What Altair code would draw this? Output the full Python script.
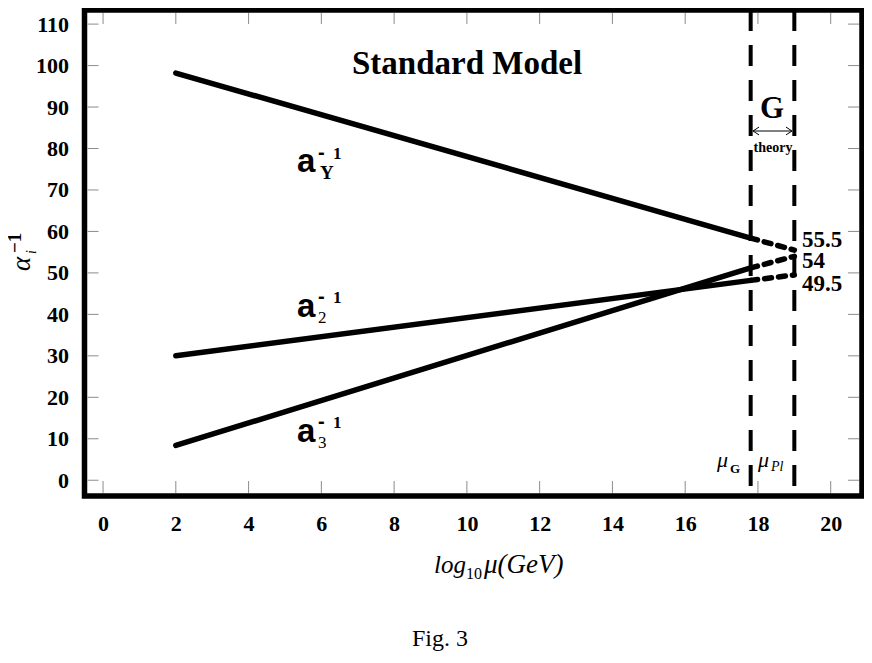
import altair as alt
import pandas as pd

# ---------------- data ----------------
scales = [2.0, 17.8, 19.0]            # log10(mu/GeV): start, mu_G, mu_Pl
alpha_Y = [98.2, 58.4, 55.5]
alpha_2 = [30.0, 48.2, 49.5]
alpha_3 = [8.4, 51.2, 54.0]
series = ["Y", "2", "3"]
mu_lines = [17.8, 19.0]
x_ticks = list(range(0, 21, 2))
y_ticks = list(range(0, 111, 10))
end_labels = ["55.5", "54", "49.5"]

# ---------------- layout ----------------
LEFT, TOP = 84.5, 10.0
W, H = 777.5, 486.0
X_DOM = [-0.51, 20.86]
Y_DOM = [-3.8, 113.4]

xs = alt.Scale(domain=X_DOM, zero=False, nice=False)
ys = alt.Scale(domain=Y_DOM, zero=False, nice=False)

one = pd.DataFrame({"k": [0]})

x_axis = alt.Axis(values=x_ticks, ticks=False, domain=False, grid=False,
                  labelFont="Liberation Serif", labelFontWeight="bold", labelFontSize=22,
                  labelPadding=17, labelColor="black", title=None)
y_axis = alt.Axis(values=y_ticks, ticks=False, domain=False, grid=False,
                  labelFont="Liberation Serif", labelFontWeight="bold", labelFontSize=22,
                  labelPadding=16, labelColor="black", title=None)


def px(x):
    return x - LEFT


def py(y):
    return y - TOP


def txt(s, x, y, size, font="Liberation Serif", weight="normal", style="normal",
        align="left", angle=0, baseline="alphabetic"):
    return alt.Chart(one).mark_text(
        text=s, font=font, fontSize=size, fontWeight=weight, fontStyle=style,
        align=align, baseline=baseline, angle=angle, color="black"
    ).encode(x=alt.value(px(x)), y=alt.value(py(y)))


# segments
rows_solid, rows_dash = [], []
for name, vals in zip(series, [alpha_Y, alpha_2, alpha_3]):
    rows_solid.append({"s": name, "x": scales[0], "x2": scales[1], "y": vals[0], "y2": vals[1]})
    rows_dash.append({"s": name, "x": scales[1], "x2": scales[2], "y": vals[1], "y2": vals[2]})

solid = alt.Chart(pd.DataFrame(rows_solid)).mark_rule(
    strokeWidth=5.5, strokeCap="round", color="black"
).encode(
    x=alt.X("x:Q", scale=xs, axis=x_axis), x2="x2:Q",
    y=alt.Y("y:Q", scale=ys, axis=y_axis), y2="y2:Q",
)
dashed = alt.Chart(pd.DataFrame(rows_dash)).mark_rule(
    strokeWidth=5.5, strokeCap="round", strokeDash=[7, 7], color="black"
).encode(
    x=alt.X("x:Q", scale=xs, axis=x_axis), x2="x2:Q",
    y=alt.Y("y:Q", scale=ys, axis=y_axis), y2="y2:Q",
)

vlines = alt.Chart(pd.DataFrame({"x": mu_lines})).mark_rule(
    strokeWidth=4, strokeDash=[21, 14], color="black"
).encode(x=alt.X("x:Q", scale=xs, axis=x_axis))

# ticks (inward, on all four sides)
tick_col = "#8c8c8c"
xt = pd.DataFrame({"v": x_ticks})
yt = pd.DataFrame({"v": y_ticks})

tb = alt.Chart(xt).mark_rule(color=tick_col, strokeWidth=1).encode(
    x=alt.X("v:Q", scale=xs, axis=x_axis), y=alt.value(H - 3), y2=alt.value(H - 15))
tt = alt.Chart(xt).mark_rule(color=tick_col, strokeWidth=1).encode(
    x=alt.X("v:Q", scale=xs, axis=x_axis), y=alt.value(3), y2=alt.value(14))
tl = alt.Chart(yt).mark_rule(color=tick_col, strokeWidth=1).encode(
    y=alt.Y("v:Q", scale=ys, axis=y_axis), x=alt.value(3), x2=alt.value(14))
tr = alt.Chart(yt).mark_rule(color=tick_col, strokeWidth=1).encode(
    y=alt.Y("v:Q", scale=ys, axis=y_axis), x=alt.value(W - 3), x2=alt.value(W - 14))

# arrow between mu_G and mu_Pl
arrow_line = alt.Chart(one).mark_rule(color="black", strokeWidth=1).encode(
    x=alt.value(px(753)), x2=alt.value(px(792)), y=alt.value(py(131)))
head_l = alt.Chart(one).mark_point(
    shape="M1,-1.3L-1,0L1,1.3", size=36, filled=False, stroke="black", strokeWidth=1, opacity=1
).encode(x=alt.value(px(756)), y=alt.value(py(131)))
head_r = alt.Chart(one).mark_point(
    shape="M-1,-1.3L1,0L-1,1.3", size=36, filled=False, stroke="black", strokeWidth=1, opacity=1
).encode(x=alt.value(px(789)), y=alt.value(py(131)))

texts = [
    txt("Standard Model", 467, 74, 33, weight="bold", align="center"),
    # a_Y^-1
    txt("a", 297, 172, 33, font="Liberation Sans", weight="bold"),
    txt("Y", 320, 179, 19, weight="bold"),
    txt("-", 318, 159, 20, font="Liberation Sans", weight="bold"),
    txt("1", 333, 159, 17, weight="bold"),
    # a_2^-1
    txt("a", 297, 317, 33, font="Liberation Sans", weight="bold"),
    txt("2", 318, 323, 17),
    txt("-", 318, 303, 20, font="Liberation Sans", weight="bold"),
    txt("1", 333, 303, 17, weight="bold"),
    # a_3^-1
    txt("a", 297, 442, 33, font="Liberation Sans", weight="bold"),
    txt("3", 318, 448, 17),
    txt("-", 318, 428, 20, font="Liberation Sans", weight="bold"),
    txt("1", 333, 428, 17, weight="bold"),
    # end values
    txt(end_labels[0], 802, 247, 23, weight="bold"),
    txt(end_labels[1], 802, 268, 23, weight="bold"),
    txt(end_labels[2], 802, 291, 23, weight="bold"),
    # G theory
    txt("G", 772, 118, 31, weight="bold", align="center"),
    txt("theory", 773, 152, 14, weight="bold", align="center"),
    # mu labels
    txt("μ", 717, 467, 22, style="italic"),
    txt("G", 730, 473, 13, weight="bold"),
    txt("μ", 758, 467, 22, style="italic"),
    txt("Pl", 771, 471, 14, style="italic"),
    # y title  alpha_i^-1 (rotated)
    txt("α", 30, 271, 27, style="italic", angle=270),
    txt("i", 36, 254, 14, style="italic", angle=270),
    txt("−1", 21, 253, 19, weight="bold", angle=270),
    # x title log10 mu(GeV)
    txt("log", 434, 573, 25, style="italic"),
    txt("10", 466, 579, 16),
    txt("μ(GeV)", 484, 573, 27, style="italic"),
    # caption
    txt("Fig. 3", 440, 646, 24, align="center"),
]

chart = alt.layer(
    tb, tt, tl, tr, vlines, solid, dashed, arrow_line, head_l, head_r, *texts
).properties(
    width=W, height=H,
    background="white",
    autosize=alt.AutoSizeParams(type="none"),
    padding={"left": LEFT - 8, "top": TOP - 8, "right": 2, "bottom": 157},
).configure_view(
    stroke="black", strokeWidth=5.5
)

chart.save("out.html", embed_options={"renderer": "svg", "actions": False})
